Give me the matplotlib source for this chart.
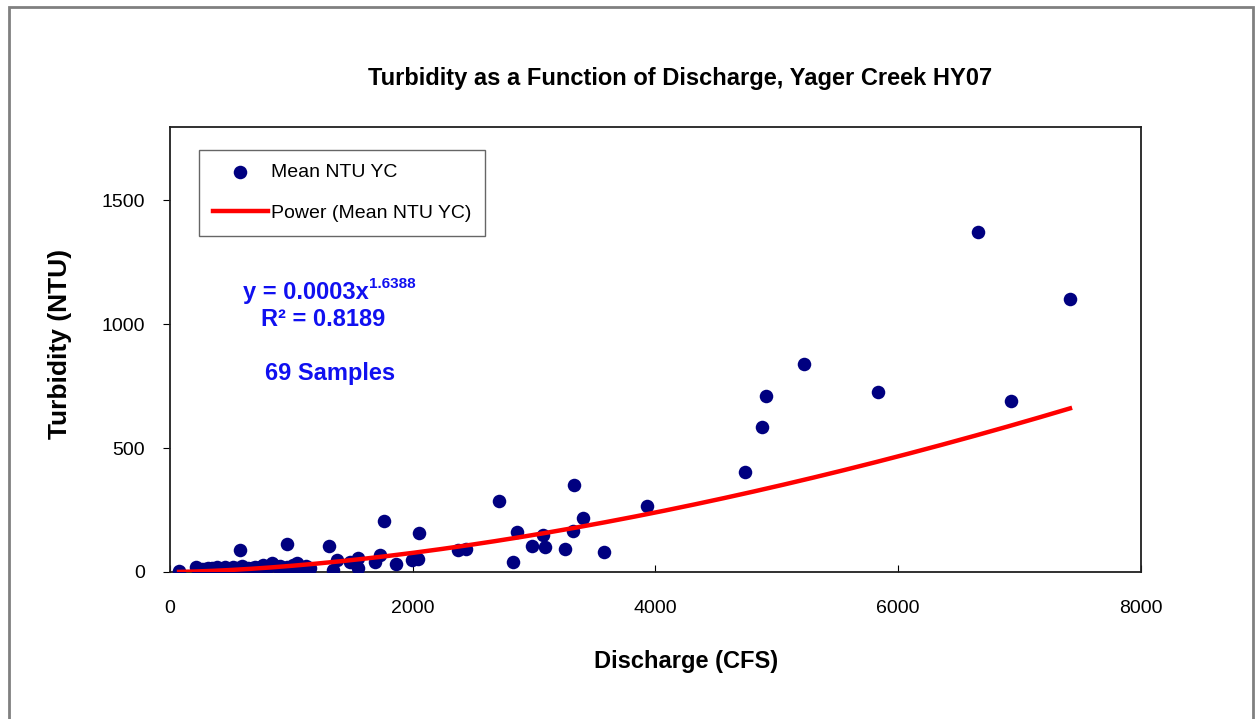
import numpy as np
import matplotlib
matplotlib.use("Agg")
import matplotlib.pyplot as plt
from matplotlib.patches import Rectangle

plt.rcParams['font.family'] = ['Liberation Sans', 'DejaVu Sans']

# discharge (CFS) and mean turbidity (NTU)
discharge = [75, 214, 264, 313, 387, 453, 519, 593, 643, 700, 766, 840, 906, 964,
             1046, 1087, 577, 964, 240, 285, 350, 420, 480, 550, 620, 680, 740, 800,
             870, 930, 1010, 1030, 1120, 265, 1153, 1310, 1343, 1376, 1483, 1549, 1549,
             1689, 1730, 1763, 1862, 1994, 2043, 2051, 2373, 2439, 2710, 2826, 2859,
             2982, 3073, 3089, 3254, 3320, 3328, 3403, 3576, 3930, 4737, 4877, 4910,
             5223, 5833, 6657, 6929, 7415]
turbidity = [2, 20, 12, 16, 20, 20, 20, 24, 16, 20, 28, 36, 24, 20,
             36, 20, 89, 113, 6, 10, 14, 8, 12, 18, 10, 14, 22, 18,
             26, 14, 30, 18, 24, 8, 16, 105, 8, 48, 40, 56, 16,
             40, 69, 206, 32, 48, 52, 157, 89, 93, 286, 40, 161,
             105, 149, 101, 93, 165, 351, 218, 81, 266, 403, 585, 710,
             839, 726, 1371, 690, 1101]

# power trendline reported on the chart
coef_a = 0.0003
coef_b = 1.6388
r_squared = 0.8189
n_samples = 69

fig = plt.figure(figsize=(12.57, 7.19), dpi=100)
ax = fig.add_axes([0.1352, 0.2045, 0.7725, 0.6189])

ax.scatter(discharge, turbidity, s=95, color='#000080', zorder=3,
           label='Mean NTU YC', linewidths=0)
xs = np.linspace(min(discharge), max(discharge), 300)
ax.plot(xs, coef_a * xs ** coef_b, color='#ff0000', lw=3.2, zorder=4,
        label='Power (Mean NTU YC)')

ax.set_xlim(0, 8000)
ax.set_ylim(0, 1795)
ax.set_xticks([0, 2000, 4000, 6000, 8000])
ax.set_yticks([0, 500, 1000, 1500])
ax.tick_params(axis='x', direction='in', length=5, pad=20, labelsize=14)
ax.tick_params(axis='y', direction='out', length=5, pad=13, labelsize=14)
for s in ax.spines.values():
    s.set_linewidth(1.3)
    s.set_color('#202020')

fig.text(0.541, 1 - 78 / 719, 'Turbidity as a Function of Discharge, Yager Creek HY07',
         fontsize=17, fontweight='bold', ha='center', va='center')
ax.set_xlabel('Discharge (CFS)', fontsize=17, fontweight='bold')
ax.xaxis.set_label_coords(0.531, -0.175)
ax.set_ylabel('Turbidity (NTU)', fontsize=19, fontweight='bold')
ax.yaxis.set_label_coords(-0.101, 0.512)

leg = ax.legend(loc='upper left', bbox_to_anchor=(0.0299, 0.948), borderaxespad=0,
                fontsize=14, frameon=True, fancybox=False, handlelength=2.85,
                handletextpad=0.15, borderpad=0.7, labelspacing=1.2)
leg.get_frame().set_edgecolor('#404040')
leg.get_frame().set_linewidth(1.0)

blue = '#1010f0'
ax.text(0.205, 0.627, f'y = {coef_a}x', transform=ax.transAxes,
        ha='right', va='center', fontsize=17, color=blue, fontweight='bold')
ax.text(0.205, 0.648, f'{coef_b}', transform=ax.transAxes,
        ha='left', va='center', fontsize=11, color=blue, fontweight='bold')
ax.text(0.158, 0.568, f'R² = {r_squared}', transform=ax.transAxes,
        ha='center', va='center', fontsize=17, color=blue, fontweight='bold')
ax.text(0.165, 0.445, f'{n_samples} Samples', transform=ax.transAxes,
        ha='center', va='center', fontsize=17, color=blue, fontweight='bold')

# outer chart border
fig.add_artist(Rectangle((0.0072, -0.02), 0.9896, 1.0105, transform=fig.transFigure,
                         fill=False, edgecolor='#808080', lw=2, clip_on=False))

fig.savefig('out.png', dpi=100)
